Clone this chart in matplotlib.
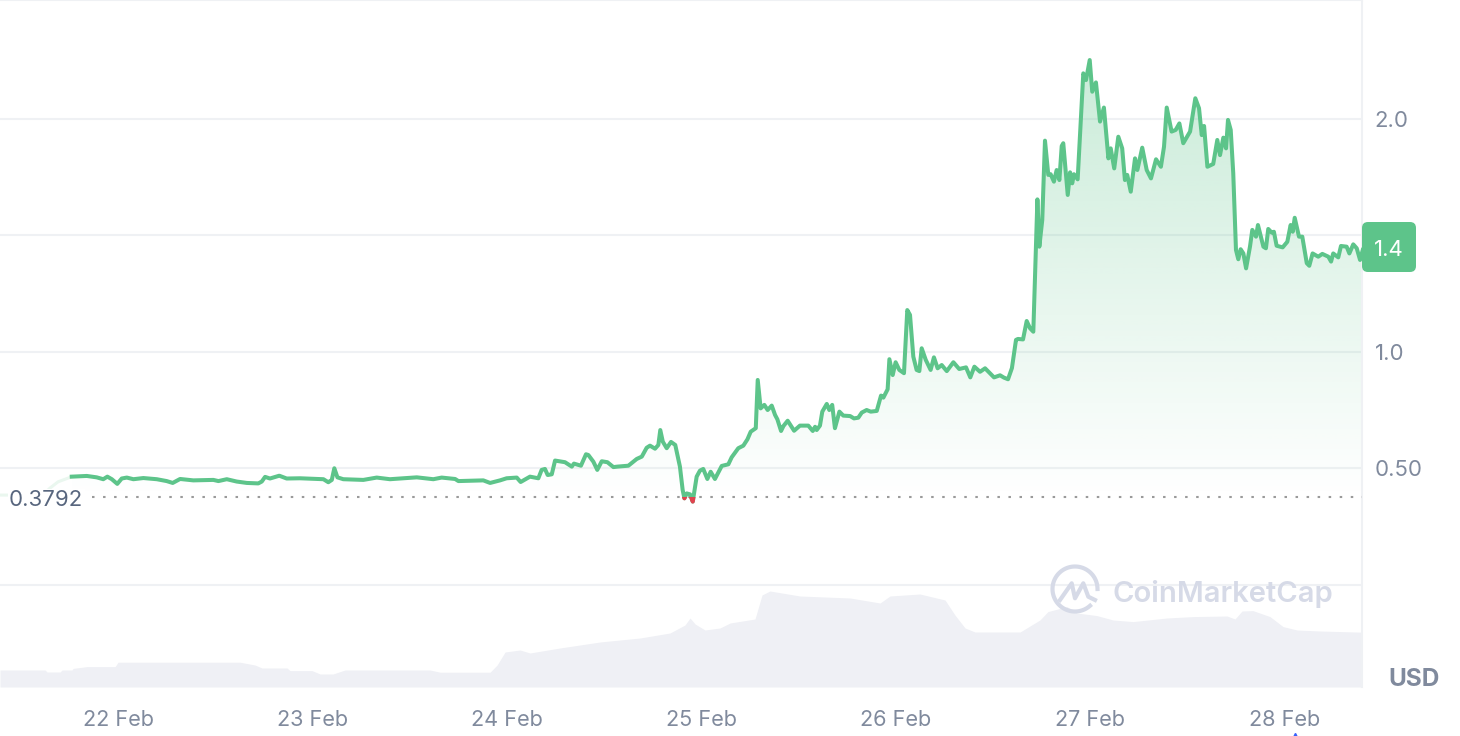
import numpy as np
import matplotlib
matplotlib.use("Agg")
import matplotlib.pyplot as plt
from matplotlib.patches import FancyBboxPatch, PathPatch, Rectangle
from matplotlib.path import Path
from matplotlib.transforms import Affine2D

plt.rcParams["font.family"] = ["Inter", "DejaVu Sans"]

# x is the day of February, y is USD
price_days = [
    21.762, 21.839, 21.890, 21.924, 21.945, 21.968, 21.996, 22.019, 22.045, 22.079, 22.130, 22.199,
    22.250, 22.281, 22.319, 22.387, 22.490, 22.516, 22.559, 22.610, 22.662, 22.721, 22.739, 22.756,
    22.781, 22.829, 22.867, 22.936, 23.056, 23.081, 23.099, 23.112, 23.128, 23.158, 23.261, 23.330,
    23.398, 23.536, 23.621, 23.664, 23.733, 23.750, 23.878, 23.913, 23.964, 23.998, 24.050, 24.070,
    24.118, 24.161, 24.178, 24.195, 24.209, 24.230, 24.247, 24.298, 24.333, 24.344, 24.380, 24.406,
    24.418, 24.444, 24.464, 24.487, 24.516, 24.547, 24.567, 24.624, 24.667, 24.693, 24.718, 24.735,
    24.761, 24.778, 24.788, 24.801, 24.821, 24.843, 24.865, 24.889, 24.903, 24.912, 24.924, 24.941,
    24.955, 24.975, 24.992, 25.009, 25.030, 25.047, 25.069, 25.104, 25.138, 25.155, 25.189, 25.215,
    25.236, 25.253, 25.279, 25.289, 25.304, 25.323, 25.340, 25.361, 25.378, 25.390, 25.409, 25.421,
    25.443, 25.476, 25.506, 25.549, 25.572, 25.584, 25.592, 25.609, 25.621, 25.644, 25.657, 25.672,
    25.686, 25.709, 25.729, 25.764, 25.784, 25.806, 25.824, 25.849, 25.870, 25.901, 25.923, 25.935,
    25.957, 25.966, 25.983, 25.998, 26.017, 26.041, 26.058, 26.072, 26.089, 26.106, 26.120, 26.132,
    26.153, 26.178, 26.195, 26.214, 26.235, 26.261, 26.295, 26.325, 26.360, 26.382, 26.403, 26.432,
    26.458, 26.504, 26.535, 26.555, 26.576, 26.596, 26.617, 26.627, 26.653, 26.672, 26.689, 26.706,
    26.727, 26.737, 26.752, 26.766, 26.783, 26.795, 26.812, 26.826, 26.840, 26.852, 26.860, 26.883,
    26.895, 26.906, 26.915, 26.934, 26.963, 26.977, 26.996, 27.009, 27.028, 27.049, 27.069, 27.092,
    27.104, 27.122, 27.143, 27.163, 27.177, 27.189, 27.207, 27.229, 27.241, 27.266, 27.289, 27.311,
    27.337, 27.362, 27.378, 27.392, 27.417, 27.438, 27.457, 27.477, 27.512, 27.539, 27.558, 27.572,
    27.584, 27.601, 27.631, 27.652, 27.666, 27.683, 27.697, 27.707, 27.721, 27.734, 27.748, 27.760,
    27.772, 27.786, 27.800, 27.820, 27.832, 27.851, 27.861, 27.889, 27.902, 27.914, 27.932, 27.943,
    27.957, 27.988, 28.012, 28.029, 28.040, 28.050, 28.072, 28.089, 28.112, 28.125, 28.142, 28.171,
    28.192, 28.223, 28.237, 28.248, 28.274, 28.288, 28.317, 28.331, 28.351, 28.369, 28.386, 28.400,
]
price_usd = [
    0.465, 0.468, 0.462, 0.454, 0.465, 0.454, 0.434, 0.457, 0.461, 0.454, 0.459, 0.454,
    0.446, 0.438, 0.455, 0.449, 0.451, 0.446, 0.454, 0.444, 0.438, 0.436, 0.444, 0.464,
    0.457, 0.469, 0.457, 0.458, 0.454, 0.441, 0.451, 0.501, 0.462, 0.454, 0.451, 0.461,
    0.454, 0.462, 0.454, 0.461, 0.455, 0.446, 0.449, 0.438, 0.449, 0.458, 0.461, 0.442,
    0.465, 0.458, 0.494, 0.498, 0.472, 0.475, 0.534, 0.527, 0.508, 0.521, 0.512, 0.561,
    0.558, 0.529, 0.494, 0.531, 0.527, 0.506, 0.508, 0.512, 0.541, 0.551, 0.589, 0.598,
    0.585, 0.601, 0.665, 0.615, 0.587, 0.614, 0.601, 0.508, 0.408, 0.372, 0.393, 0.389,
    0.358, 0.465, 0.491, 0.498, 0.455, 0.486, 0.455, 0.511, 0.518, 0.548, 0.587, 0.598,
    0.625, 0.658, 0.673, 0.880, 0.758, 0.773, 0.751, 0.770, 0.730, 0.711, 0.661, 0.682,
    0.705, 0.662, 0.684, 0.684, 0.661, 0.679, 0.665, 0.684, 0.744, 0.777, 0.751, 0.773,
    0.673, 0.744, 0.727, 0.725, 0.715, 0.718, 0.740, 0.751, 0.744, 0.747, 0.813, 0.804,
    0.840, 0.969, 0.901, 0.956, 0.923, 0.909, 1.180, 1.159, 0.980, 0.923, 0.918, 1.016,
    0.966, 0.923, 0.977, 0.930, 0.944, 0.918, 0.956, 0.927, 0.934, 0.891, 0.937, 0.915,
    0.930, 0.891, 0.900, 0.890, 0.883, 0.931, 1.052, 1.056, 1.054, 1.133, 1.102, 1.087,
    1.655, 1.452, 1.567, 1.907, 1.760, 1.763, 1.731, 1.781, 1.738, 1.884, 1.896, 1.674,
    1.771, 1.724, 1.763, 1.741, 2.196, 2.167, 2.253, 2.117, 2.157, 1.989, 2.049, 1.831,
    1.874, 1.788, 1.924, 1.874, 1.738, 1.760, 1.688, 1.831, 1.781, 1.877, 1.781, 1.745,
    1.827, 1.795, 1.881, 2.049, 1.946, 1.953, 1.981, 1.896, 1.946, 2.089, 2.046, 1.931,
    1.970, 1.795, 1.807, 1.910, 1.845, 1.920, 1.874, 1.996, 1.953, 1.767, 1.438, 1.398,
    1.441, 1.423, 1.359, 1.452, 1.524, 1.495, 1.545, 1.452, 1.445, 1.528, 1.512, 1.516,
    1.456, 1.449, 1.473, 1.545, 1.516, 1.576, 1.495, 1.495, 1.381, 1.370, 1.423, 1.409,
    1.421, 1.409, 1.388, 1.423, 1.406, 1.455, 1.452, 1.423, 1.462, 1.445, 1.395, 1.438,
]
lead_days = [21.393, 21.614, 21.650, 21.692, 21.763]
lead_usd = [0.386, 0.386, 0.416, 0.443, 0.465]

volume_days = [
    21.393, 21.625, 21.635, 21.702, 21.712, 21.763, 21.769, 21.841, 21.985, 22.0, 22.627, 22.704,
    22.740, 22.869, 22.884, 22.997, 23.039, 23.105, 23.167, 23.604, 23.656, 23.913, 23.949, 23.990,
    24.067, 24.118, 24.272, 24.478, 24.684, 24.838, 24.915, 24.941, 24.967, 25.018, 25.095, 25.147,
    25.275, 25.311, 25.352, 25.506, 25.764, 25.918, 25.969, 26.123, 26.252, 26.303, 26.355, 26.406,
    26.638, 26.740, 26.781, 26.879, 26.931, 27.033, 27.116, 27.219, 27.393, 27.527, 27.702, 27.743,
    27.779, 27.835, 27.923, 27.990, 28.062, 28.180, 28.401,
]
volume_musd = [
    8.5, 8.5, 7.5, 7.5, 8.5, 8.5, 9.3, 10.2, 10.2, 12.4, 12.4, 11,
    9.5, 9.5, 8.2, 8.2, 6.5, 6.5, 8.5, 8.5, 7.4, 7.4, 11, 17.5,
    18.5, 17, 19.5, 22.5, 24.5, 27, 31, 34.5, 31.5, 28.5, 29.5, 32,
    34, 46, 48, 45.5, 44.5, 42, 45.5, 46.5, 43.5, 36, 29.5, 27.5,
    27.5, 33.5, 37.7, 40.2, 37, 35.7, 33.5, 32.7, 34.5, 35.2, 35.5, 34,
    38, 38.2, 35.2, 30.2, 28.5, 28, 27.4,
]

grid_levels = [0, 0.5, 1.0, 1.5, 2.0]
y_tick_values = [0.5, 1.0, 2.0]
y_tick_labels = ["0.50", "1.0", "2.0"]
x_tick_days = [22, 23, 24, 25, 26, 27, 28]
x_tick_labels = ["22 Feb", "23 Feb", "24 Feb", "25 Feb", "26 Feb", "27 Feb", "28 Feb"]
low_price = 0.3792
last_label = "1.4"

GREEN = "#5dc48a"
RED = "#e0434f"
GRID = "#eff1f4"
TICK = "#808a9d"
LOGO = "#d6dae7"

fig = plt.figure(figsize=(14.6, 7.36), dpi=100)
ax = fig.add_axes([0, 49 / 736, 1362 / 1460, 687 / 736])
# reference pixels, y downwards, for the non data furniture
px = Affine2D().scale(1, -1).translate(0, 736)

ax.set_xlim(21.393, 28.396)
ax.set_ylim(-0.4378, 2.5107)
for s in ["left", "bottom"]:
    ax.spines[s].set_visible(False)
for s in ["top", "right"]:
    ax.spines[s].set_color(GRID)
    ax.spines[s].set_linewidth(1.5)
ax.set_xticks(x_tick_days)
ax.set_xticklabels(x_tick_labels)
ax.set_yticks([])
ax.tick_params(axis="x", length=0, pad=16.5, labelsize=15.6, labelcolor=TICK)
for lv in grid_levels:
    ax.axhline(lv, color=GRID, lw=1.5, zorder=1)

# volume, own scale, no axis
vol = ax.twinx()
vol.set_ylim(0, 343.5)
vol.set_yticks([])
for s in vol.spines.values():
    s.set_visible(False)
vol.fill_between(volume_days, volume_musd, 0, color="#eff0f5", lw=0, zorder=1)
ax.set_zorder(vol.get_zorder() + 1)
ax.patch.set_visible(False)

# gradient area down to the period low
xs = np.array(price_days)
ys = np.array(price_usd)
grad = np.zeros((256, 2, 4))
grad[..., :3] = matplotlib.colors.to_rgb(GREEN)
grad[..., 3] = np.linspace(0.33, 0.0, 256)[:, None]
img = ax.imshow(grad, extent=(xs[0], xs[-1], low_price, ys.max()), origin="upper", aspect="auto", zorder=2)
poly = np.column_stack([np.r_[xs[0], xs, xs[-1]], np.r_[low_price, np.maximum(ys, low_price), low_price]])
img.set_clip_path(PathPatch(Path(poly), transform=ax.transData))
ax.set_xlim(21.393, 28.396)
ax.set_ylim(-0.4378, 2.5107)

ax.plot(lead_days, lead_usd, color="#eaf7ef", lw=2.2, zorder=2)
ax.plot([21.866, 28.396], [low_price, low_price], color="#9a9a9a", lw=1.5,
        dashes=(1.2, 4.1), zorder=3)
ax.plot(xs, ys, color=GREEN, lw=2.9, zorder=4, solid_joinstyle="round")
red, = ax.plot(xs, ys, color=RED, lw=2.9, zorder=5, solid_joinstyle="round")
red.set_clip_path(Rectangle((21, -1), 8, 1 + low_price, transform=ax.transData))

# labels on the right
for v, lab in zip(y_tick_values, y_tick_labels):
    ax.annotate(lab, xy=(1, v), xycoords=("axes fraction", "data"), xytext=(9.2, -1.2),
                textcoords="offset points", color=TICK, fontsize=16, va="center", ha="left")
fig.text(1388, 680, "USD", transform=px, color=TICK, fontsize=17.5, fontweight="bold", va="center")
fig.text(9, 500, "%.4f" % low_price, transform=px, color="#58667e", fontsize=16, va="center", zorder=6,
         bbox=dict(fc="white", ec="none", pad=1))
fig.patches.append(FancyBboxPatch((1366, 226), 46, 42, boxstyle="round,pad=4,rounding_size=6",
                                  transform=px, fc=GREEN, ec="none", figure=fig))
fig.text(1389, 249.5, last_label, transform=px, color="white", fontsize=16, ha="center", va="center", zorder=6)

# watermark
th = np.radians(np.linspace(0, 312, 80))
fig.add_artist(plt.Line2D(1075 + 22.5 * np.cos(th), 589 - 22.5 * np.sin(th), transform=px,
                          color=LOGO, lw=3))
fig.add_artist(plt.Line2D([1060, 1071.7, 1075, 1083.3, 1088.3, 1095], [600, 583.3, 598.3, 583.3, 596.7, 600],
                          transform=px, color=LOGO, lw=3))
fig.text(1112.5, 594, "CoinMarketCap", transform=px, color=LOGO, fontsize=21, fontweight="semibold", va="center")

fig.add_artist(plt.Line2D([1295], [735], transform=px, marker="^", ms=3, color="#3861fb", lw=0))

fig.savefig("out.png", dpi=100, facecolor="white")
